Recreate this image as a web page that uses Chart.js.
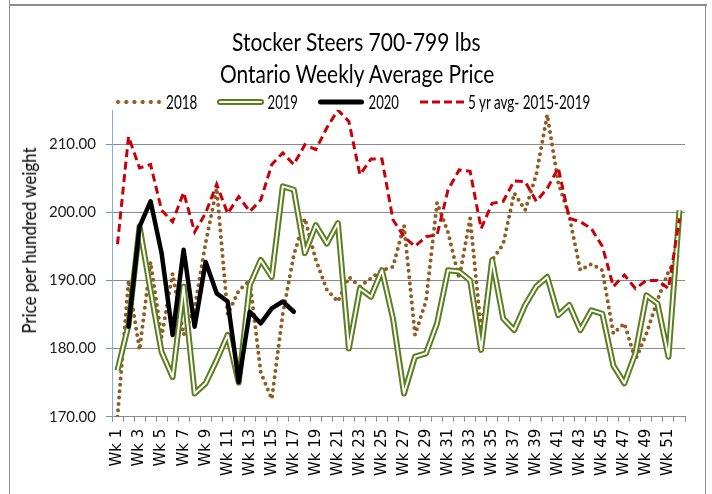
<!DOCTYPE html>
<html>
<head>
<meta charset="utf-8">
<script src="https://cdn.jsdelivr.net/npm/chart.js@4"></script>
<style>
  html, body { margin: 0; padding: 0; background: #fff; }
  #wrap { position: relative; width: 712px; height: 494px; overflow: hidden; background: #fff; }
  #c { position: absolute; left: 0; top: 0; }
  .frame { position: absolute; background: #8c8c8c; }
  .txt { position: absolute; white-space: nowrap; display: inline-block; transform-origin: center center; color: #000; font-family: Lato, "Open Sans", sans-serif; line-height: 1; }
  .mk { position: absolute; transform: translateY(-50%); }
</style>
</head>
<body>
<div id="wrap">
  <canvas id="c" width="712" height="494"></canvas>
  <div class="frame" style="left:9px;top:0;width:1px;height:494px"></div>
  <div class="frame" style="left:9px;top:4px;width:698px;height:2px"></div>
  <div class="frame" style="left:705px;top:4px;width:1px;height:490px"></div>

  <div class="txt" id="t1" style="font-size:22px">Stocker Steers 700-799 lbs</div>
  <div class="txt" id="t2" style="font-size:22px">Ontario Weekly Average Price</div>

  <div class="mk" style="left:114px;top:101.5px;width:48px;height:6px;background-image:radial-gradient(circle at center, #8f5c24 1.7px, rgba(0,0,0,0) 2.3px);background-size:8.2px 6px;"></div>
  <div class="txt" id="l1" style="font-size:17px">2018</div>
  <div class="mk" style="left:217px;top:101.5px;width:43px;height:2px;border:2px solid #5b7f1f;border-radius:3px;background:#fff;"></div>
  <div class="txt" id="l2" style="font-size:17px">2019</div>
  <div class="mk" style="left:318px;top:101.5px;width:46px;height:5px;border-radius:3px;background:#000;"></div>
  <div class="txt" id="l3" style="font-size:17px">2020</div>
  <div class="mk" style="left:420px;top:101.5px;width:45px;height:3px;background-image:repeating-linear-gradient(90deg, #c8000a 0, #c8000a 8px, rgba(0,0,0,0) 8px, rgba(0,0,0,0) 12px);"></div>
  <div class="txt" id="l4" style="font-size:17px">5 yr avg- 2015-2019</div>

  <div class="txt" id="yt" style="font-size:17px">Price per hundred weight</div>
</div>
<script>
// ---- data ----
const weeks = ["Wk 1","Wk 2","Wk 3","Wk 4","Wk 5","Wk 6","Wk 7","Wk 8","Wk 9","Wk 10",
  "Wk 11","Wk 12","Wk 13","Wk 14","Wk 15","Wk 16","Wk 17","Wk 18","Wk 19","Wk 20",
  "Wk 21","Wk 22","Wk 23","Wk 24","Wk 25","Wk 26","Wk 27","Wk 28","Wk 29","Wk 30",
  "Wk 31","Wk 32","Wk 33","Wk 34","Wk 35","Wk 36","Wk 37","Wk 38","Wk 39","Wk 40",
  "Wk 41","Wk 42","Wk 43","Wk 44","Wk 45","Wk 46","Wk 47","Wk 48","Wk 49","Wk 50",
  "Wk 51","Wk 52"];

const y2018 = [170.0, 190.0, 179.8, 192.7, 181.7, 191.0, 182.0, 186.0, 195.5, 203.5,
  185.0, 188.5, 190.0, 176.5, 172.6, 185.1, 193.7, 199.1, 193.0, 188.6,
  186.9, 190.5, 189.1, 190.3, 191.5, 192.0, 198.1, 182.0, 187.0, 201.4,
  197.0, 190.3, 199.1, 182.7, 193.0, 195.3, 202.8, 200.3, 205.5, 214.3,
  204.3, 199.4, 191.5, 192.4, 191.5, 182.2, 183.7, 178.3, 182.2, 187.1,
  191.3, 194.0];

const y2019 = [176.8, 183.5, 197.9, 188.5, 179.5, 175.8, 189.1, 173.4, 174.9, 178.3,
  182.0, 175.0, 189.3, 193.0, 190.5, 203.8, 203.3, 194.0, 198.1, 195.4,
  198.4, 180.0, 188.8, 187.6, 191.5, 184.4, 173.4, 178.8, 179.3, 183.7,
  191.5, 191.3, 190.0, 179.8, 193.0, 184.4, 182.7, 186.4, 189.1, 190.5,
  184.9, 186.4, 182.7, 185.6, 185.1, 177.5, 174.9, 179.3, 187.8, 186.6,
  178.8, 200.3];

const y2020 = [null, 183.2, 197.9, 201.6, 194.0, 182.0, 194.5, 183.2, 192.7, 188.1,
  186.9, 175.1, 185.4, 183.7, 185.9, 186.9, 185.4];

const yAvg = [195.3, 211.1, 206.5, 207.0, 200.3, 198.6, 202.9, 197.1, 199.9, 204.1,
  199.8, 202.3, 200.1, 201.8, 207.0, 208.7, 207.0, 209.9, 209.2, 212.4,
  215.0, 213.3, 205.5, 207.8, 207.8, 198.9, 196.4, 195.0, 196.4, 196.7,
  203.3, 206.2, 206.0, 197.6, 201.3, 201.6, 204.6, 204.5, 201.6, 203.5,
  206.5, 199.1, 198.6, 197.6, 195.0, 189.1, 190.8, 188.8, 190.0, 190.0,
  188.8, 199.1];

const yTicks = [170, 180, 190, 200, 210];

// ---- chart ----
const ctx = document.getElementById('c').getContext('2d');
new Chart(ctx, {
  type: 'line',
  data: {
    labels: weeks,
    datasets: [
      { label: '2018', data: y2018, borderColor: '#8f5c24', borderWidth: 4,
        borderDash: [0, 6.4], borderCapStyle: 'round', borderJoinStyle: 'round', order: 4 },
      { label: '2019', data: y2019, borderColor: '#5b7f1f', borderWidth: 6,
        borderJoinStyle: 'round', order: 3 },
      { label: '2019 inner', data: y2019, borderColor: '#ffffff', borderWidth: 2,
        borderJoinStyle: 'round', order: 2 },
      { label: '2020', data: y2020, borderColor: '#000000', borderWidth: 4.5,
        borderCapStyle: 'round', borderJoinStyle: 'round', order: 1 },
      { label: '5 yr avg- 2015-2019', data: yAvg, borderColor: '#c8000a', borderWidth: 3,
        borderDash: [8, 4.5], order: 0 }
    ]
  },
  options: {
    responsive: false,
    animation: false,
    events: [],
    layout: { padding: { top: 110, left: 12, right: 27, bottom: 0 } },
    elements: { point: { radius: 0 }, line: { tension: 0, fill: false } },
    plugins: { legend: { display: false }, title: { display: false }, tooltip: { enabled: false } },
    scales: {
      x: {
        offset: true,
        grid: { offset: true, drawOnChartArea: false, drawTicks: true, tickLength: 5, color: '#8c8c8c' },
        border: { color: '#8c8c8c', width: 1 },
        ticks: {
          autoSkip: false, maxRotation: 90, minRotation: 90, padding: 7,
          color: '#000', font: { family: 'DejaVu Sans', size: 15 },
          callback: (v, i) => (i % 2 === 0 ? weeks[i] : '')
        },
        afterFit: s => { s.height = 494 - 416.7; }
      },
      y: {
        min: 170, max: 215,
        afterBuildTicks: s => { s.ticks = yTicks.map(v => ({ value: v })); },
        ticks: {
          padding: 10, color: '#1a1a1a', font: { family: 'Lato', size: 15 },
          callback: v => Number(v).toFixed(2)
        },
        grid: {
          color: c => (c.tick && c.tick.value === 170 ? 'rgba(0,0,0,0)' : '#8a8a8a'),
          tickColor: '#5b9bd5', tickLength: 6, lineWidth: 1
        },
        border: { color: '#7fb0de', width: 1 },
        afterFit: s => { s.width = 100; }
      }
    }
  }
});

// ---- text placement (fit to the reference's text extents) ----
function place(id, cx, cy, w, sy, rot) {
  const el = document.getElementById(id);
  el.style.transform = 'none';
  el.style.left = '0px'; el.style.top = '0px';
  const ow = el.offsetWidth, oh = el.offsetHeight;
  el.style.left = (cx - ow / 2) + 'px';
  el.style.top = (cy - oh / 2) + 'px';
  const sx = w / ow;
  el.style.transform = (rot ? 'rotate(' + rot + 'deg) ' : '') + 'scale(' + sx + ',' + sy + ')';
}
function layoutText() {
  place('t1', 356.5, 41.5, 249, 1.15);
  place('t2', 357, 73.5, 274, 1.15);
  place('l1', 181.5, 101.5, 31, 1.1);
  place('l2', 282, 101.5, 30, 1.1);
  place('l3', 383, 101.5, 30, 1.1);
  place('l4', 529, 101.5, 122, 1.1);
  place('yt', 28.5, 240, 186, 1.1, -90);
}
layoutText();
if (document.fonts && document.fonts.ready) document.fonts.ready.then(layoutText);
</script>
</body>
</html>
